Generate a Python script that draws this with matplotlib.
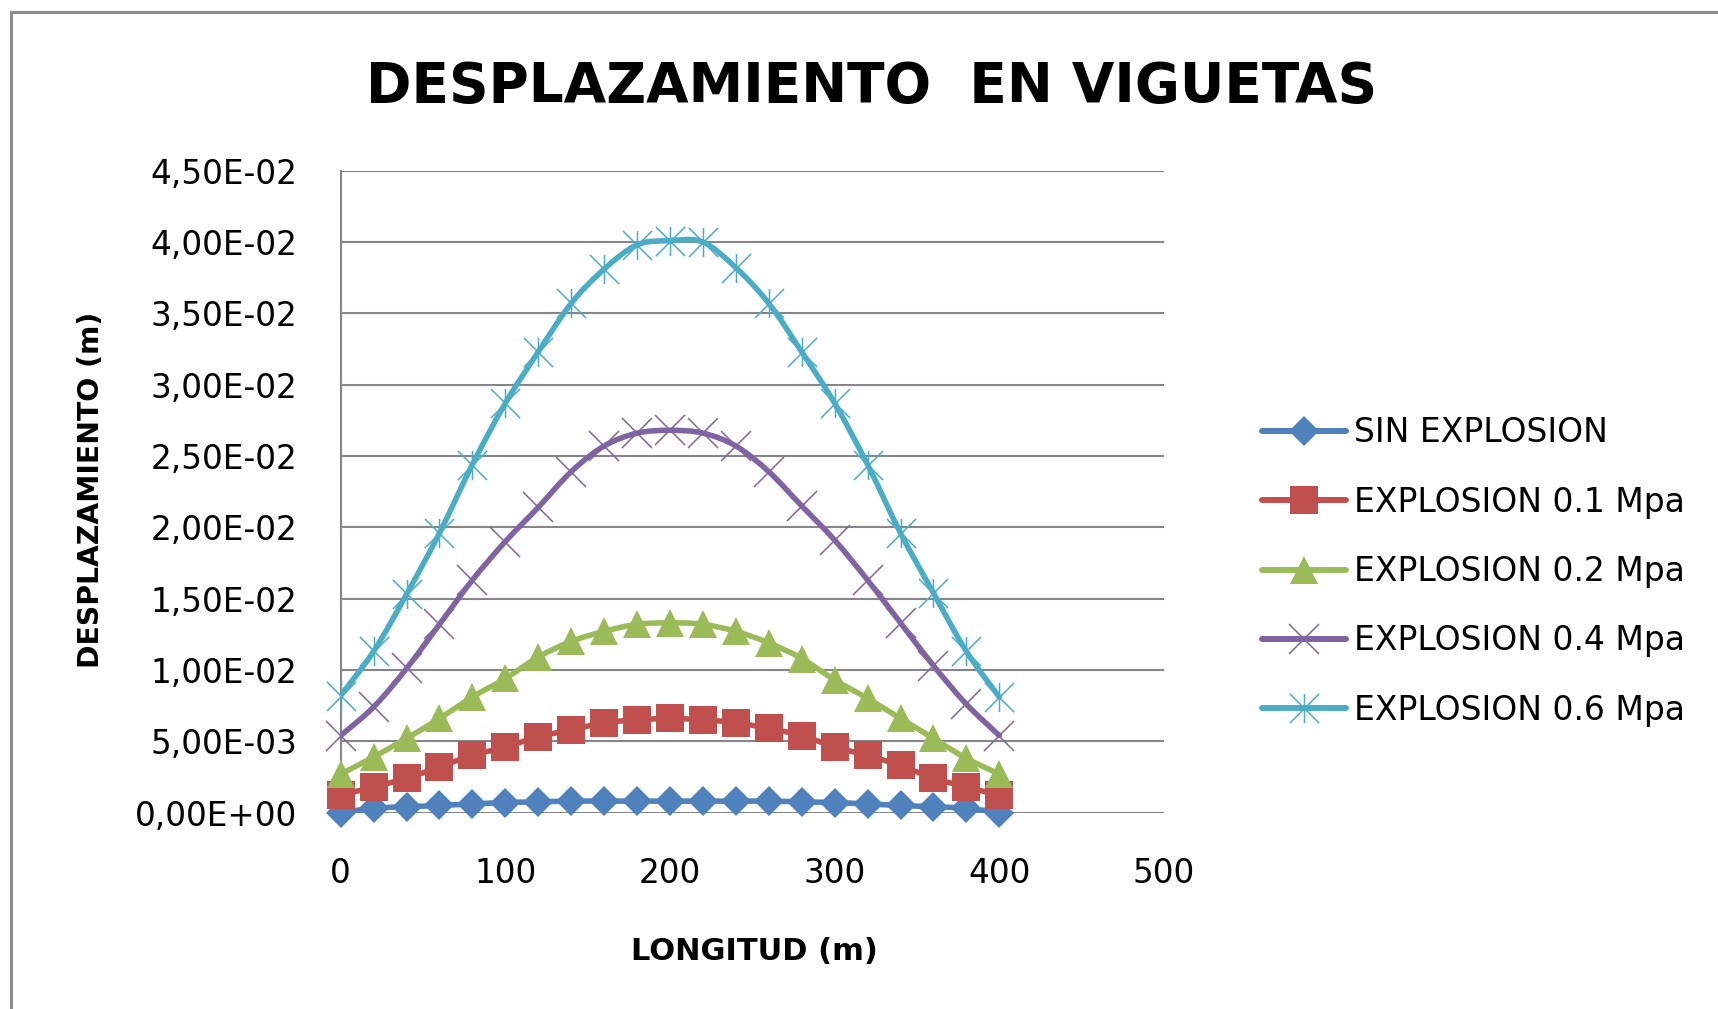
import numpy as np
import matplotlib.pyplot as plt
from matplotlib.path import Path
from matplotlib.patches import PathPatch
from matplotlib.lines import Line2D

# datos
longitud = [0, 20, 40, 60, 80, 100, 120, 140, 160, 180, 200,
            220, 240, 260, 280, 300, 320, 340, 360, 380, 400]
sin_explosion = [0.0000, 0.0003, 0.0004, 0.0005, 0.0006, 0.0007, 0.00075, 0.0008, 0.0008, 0.0008, 0.0008,
                 0.0008, 0.0008, 0.0008, 0.00075, 0.0007, 0.0006, 0.0005, 0.0004, 0.0003, 0.0000]
explosion_01 = [0.0012, 0.0018, 0.0024, 0.0032, 0.0040, 0.0046, 0.0053, 0.0058, 0.0063, 0.0065, 0.0066,
                0.0065, 0.0063, 0.0059, 0.0054, 0.0046, 0.0040, 0.0033, 0.0024, 0.0018, 0.0012]
explosion_02 = [0.0027, 0.0039, 0.0052, 0.0066, 0.0081, 0.0094, 0.0109, 0.0120, 0.0127, 0.0132, 0.0133,
                0.0132, 0.0127, 0.0119, 0.0108, 0.0093, 0.0080, 0.0066, 0.0052, 0.0038, 0.0027]
explosion_04 = [0.0054, 0.0074, 0.0101, 0.0132, 0.0163, 0.0190, 0.0214, 0.0239, 0.0257, 0.0266, 0.0268,
                0.0266, 0.0257, 0.0239, 0.0215, 0.0191, 0.0163, 0.0133, 0.0103, 0.0076, 0.0054]
explosion_06 = [0.0082, 0.0113, 0.0153, 0.0196, 0.0244, 0.0287, 0.0323, 0.0357, 0.0381, 0.0398, 0.0401,
                0.0400, 0.0382, 0.0357, 0.0323, 0.0287, 0.0244, 0.0196, 0.0154, 0.0113, 0.0081]

nombres = ['SIN EXPLOSION', 'EXPLOSION 0.1 Mpa', 'EXPLOSION 0.2 Mpa',
           'EXPLOSION 0.4 Mpa', 'EXPLOSION 0.6 Mpa']
x_ticks = [0, 100, 200, 300, 400, 500]
y_ticks = [0, 0.005, 0.01, 0.015, 0.02, 0.025, 0.03, 0.035, 0.04, 0.045]
y_tick_labels = ['0,00E+00', '5,00E-03', '1,00E-02', '1,50E-02', '2,00E-02',
                 '2,50E-02', '3,00E-02', '3,50E-02', '4,00E-02', '4,50E-02']

colores = ['#4F81BD', '#C0504D', '#9BBB59', '#8064A2', '#4BACC6']

# asterisco tipo Excel (x + linea vertical)
M, L = Path.MOVETO, Path.LINETO
asterisco = Path([(-1, -1), (1, 1), (-1, 1), (1, -1), (0, -1), (0, 1)],
                 [M, L, M, L, M, L])

estilos = [
    dict(marker='D', ms=15, mfc=colores[0], mec=colores[0], mew=0),
    dict(marker='s', ms=20, mfc=colores[1], mec=colores[1], mew=0),
    dict(marker='^', ms=20, mfc=colores[2], mec=colores[2], mew=0),
    dict(marker='x', ms=21, mfc='none', mec=colores[3], mew=1.1),
    dict(marker=asterisco, ms=21, mfc='none', mec=colores[4], mew=1.1),
]


def smooth_path(x, y):
    # curva suavizada tipo Excel (bezier catmull-rom)
    pts = np.column_stack([x, y]).astype(float)
    ext = np.vstack([pts[0], pts, pts[-1]])
    verts = [pts[0]]
    codes = [Path.MOVETO]
    for i in range(len(pts) - 1):
        p0, p1, p2, p3 = ext[i], ext[i + 1], ext[i + 2], ext[i + 3]
        verts += [p1 + (p2 - p0) / 6, p2 - (p3 - p1) / 6, p2]
        codes += [Path.CURVE4] * 3
    return Path(verts, codes)


fig = plt.figure(figsize=(17.18, 10.09), dpi=100)
ax = fig.add_axes([0.1983, 0.1947, 0.4792, 0.6361])

series = [sin_explosion, explosion_01, explosion_02, explosion_04, explosion_06]
handles = []
for i, y in enumerate(series):
    patch = PathPatch(smooth_path(longitud, y), fill=False, edgecolor=colores[i],
                      lw=4, capstyle='round', joinstyle='round', zorder=3 + 2 * i,
                      transform=ax.transData)
    ax.add_patch(patch)
    ax.plot(longitud, y, ls='none', zorder=4 + 2 * i, clip_on=False, **estilos[i])
    handles.append(Line2D([], [], color=colores[i], lw=4.3, solid_capstyle='round', **estilos[i]))

ax.set_xlim(0, 500)
ax.set_ylim(0, 0.045)
ax.set_xticks(x_ticks)
ax.set_yticks(y_ticks)
ax.set_yticklabels(y_tick_labels)
ax.tick_params(axis='both', length=0, labelsize=23.5)
ax.tick_params(axis='y', pad=31)
ax.tick_params(axis='x', pad=32)
ax.grid(axis='y', color='#868686', lw=1.5)
ax.set_axisbelow(True)
for s in ['top', 'right', 'bottom']:
    ax.spines[s].set_visible(False)
ax.spines['left'].set_color('#868686')
ax.spines['left'].set_linewidth(1.5)

fig.text(0.5076, 0.8989, 'DESPLAZAMIENTO  EN VIGUETAS', ha='center', va='baseline',
         fontsize=39.5, fontweight='bold')
fig.text(0.053, 0.5144, 'DESPLAZAMIENTO (m)', rotation=90, ha='center', va='center',
         fontsize=20.3, fontweight='bold')
fig.text(0.4389, 0.0486, 'LONGITUD (m)', ha='center', va='baseline',
         fontsize=22, fontweight='bold')

fig.legend(handles, nombres, loc='center left', bbox_to_anchor=(0.7346, 0.4335),
           frameon=False, fontsize=23.8, numpoints=1, borderpad=0, borderaxespad=0,
           handlelength=2.55, handletextpad=0.24, labelspacing=1.1)

# marco gris del grafico
fig.add_artist(Line2D([11 / 1718, 11 / 1718], [0, 1 - 11.5 / 1009], color='#8c8c8c', lw=2.2,
                      transform=fig.transFigure))
fig.add_artist(Line2D([11 / 1718, 1], [1 - 11.5 / 1009, 1 - 11.5 / 1009], color='#8c8c8c',
                      lw=2.2, transform=fig.transFigure))

fig.savefig('out.png', dpi=100)
